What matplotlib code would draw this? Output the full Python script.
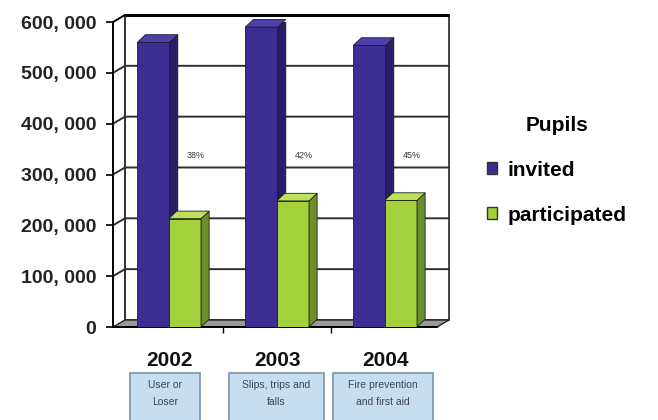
import matplotlib
matplotlib.use("Agg")
import matplotlib.pyplot as plt
import matplotlib.patches as mpatches
from matplotlib.ticker import FuncFormatter
import matplotlib.transforms as mtransforms

# dados do grafico
anos = ['2002', '2003', '2004']
temas = ['User or\nLoser', 'Slips, trips and\nfalls', 'Fire prevention\nand first aid']
convidados = [560000, 590000, 554000]
participantes = [213000, 248000, 249000]
percentuais = ['38%', '42%', '45%']
y_ticks = [0, 100000, 200000, 300000, 400000, 500000, 600000]

# cores
cor_conv = ('#3b2d91', '#291d68', '#4d3fae')   # frente, lado, topo
cor_part = ('#a3d13b', '#6b8e2c', '#bfe05a')

plt.rcParams['font.family'] = ['Liberation Sans', 'DejaVu Sans']

fig = plt.figure(figsize=(6.58, 4.2), dpi=100)
W, H = 658, 420
ax = fig.add_axes([113 / W, (H - 327) / H, (437 - 113) / W, 305 / H])

x0, x1 = -0.52, 2.48
ymax = 600000
ax.set_xlim(x0, x1)
ax.set_ylim(0, ymax)

# profundidade da "caixa" 3D (em unidades de dados)
pdx, pdy = 0.111, 13800
# profundidade das barras
bdx, bdy = 0.075, 15000

# parede do fundo
ax.add_patch(mpatches.Rectangle((x0 + pdx, pdy), x1 - x0, ymax, facecolor='white',
                                edgecolor='#222222', lw=1.2, clip_on=False, zorder=0))
ax.plot([x0 + pdx, x1 + pdx], [ymax + pdy, ymax + pdy], color='black', lw=2.2,
        clip_on=False, zorder=1, solid_capstyle='butt')
# parede lateral esquerda
ax.plot([x0 + pdx, x0 + pdx], [pdy, ymax + pdy], color='#333333', lw=1.2, clip_on=False, zorder=1)
ax.plot([x0, x0 + pdx], [ymax, ymax + pdy], color='black', lw=1.4, clip_on=False, zorder=1)

# linhas de grade
for v in y_ticks[1:-1]:
    ax.plot([x0, x0 + pdx, x1 + pdx], [v, v + pdy, v + pdy], color='#2e2e2e', lw=1.4,
            clip_on=False, zorder=1)

# piso
ax.add_patch(mpatches.Polygon([(x0, 0), (x1, 0), (x1 + pdx, pdy), (x0 + pdx, pdy)],
                              closed=True, facecolor='#9a9a9a', edgecolor='#222222',
                              lw=1.0, clip_on=False, zorder=1))


def barra3d(xc, largura, valor, cores):
    xl, xr = xc - largura / 2, xc + largura / 2
    ax.bar(xc, valor, width=largura, color=cores[0], edgecolor='#1c1c3a', lw=0.6, zorder=3)
    lado = [(xr, 0), (xr + bdx, bdy), (xr + bdx, valor + bdy), (xr, valor)]
    topo = [(xl, valor), (xr, valor), (xr + bdx, valor + bdy), (xl + bdx, valor + bdy)]
    ax.add_patch(mpatches.Polygon(lado, closed=True, facecolor=cores[1], edgecolor='#1c1c1c',
                                  lw=0.6, zorder=3))
    ax.add_patch(mpatches.Polygon(topo, closed=True, facecolor=cores[2], edgecolor='#1c1c1c',
                                  lw=0.6, zorder=3, clip_on=False))


larg = 0.30
for i in range(len(anos)):
    barra3d(i - 0.145, larg, convidados[i], cor_conv)
    barra3d(i + 0.145, larg, participantes[i], cor_part)
    ax.text(i + 0.25, 337000, percentuais[i], fontsize=6.5, color='#333333',
            ha='center', va='center', zorder=2)

# eixos
for s in ['top', 'right']:
    ax.spines[s].set_visible(False)
ax.spines['left'].set_linewidth(1.4)
ax.spines['bottom'].set_linewidth(1.4)
ax.set_yticks(y_ticks)
ax.yaxis.set_major_formatter(FuncFormatter(lambda v, p: f'{v:,.0f}'.replace(',', ', ')))
ax.tick_params(axis='y', length=5, width=1.2, pad=7, labelsize=14)
for t in ax.get_yticklabels():
    t.set_fontweight('bold')
    t.set_color('#222222')

ax.set_xticks(range(len(anos)))
ax.set_xticklabels(anos, fontsize=15, fontweight='bold', color='#111111')
ax.set_xticks([0.5, 1.5], minor=True)
ax.tick_params(axis='x', which='major', length=0, pad=17)
ax.tick_params(axis='x', which='minor', length=4, width=1.0)

# caixas com os temas
trans = mtransforms.blended_transform_factory(ax.transData, ax.transAxes)
larguras_caixa = [0.65, 0.88, 0.92]
centros_caixa = [-0.04, 0.99, 1.98]
for i, tema in enumerate(temas):
    w = larguras_caixa[i]
    ax.add_patch(mpatches.Rectangle((centros_caixa[i] - w / 2, -0.35), w, 0.2, transform=trans,
                                    facecolor='#c7ddf0', edgecolor='#7d93a8', lw=1.2,
                                    clip_on=False))
    ax.text(centros_caixa[i], -0.218, tema, transform=trans, ha='center', va='center',
            fontsize=7.5, color='#3c4652', linespacing=1.9)

# legenda
handles = [mpatches.Patch(facecolor=cor_conv[0], edgecolor='#333333', label='invited'),
           mpatches.Patch(facecolor=cor_part[0], edgecolor='#333333', label='participated')]
leg = fig.legend(handles=handles, title='Pupils', loc='upper left',
                 bbox_to_anchor=(468 / W, 1 - 97 / H), frameon=False,
                 prop={'size': 15, 'weight': 'bold'}, handlelength=0.5, handleheight=0.5,
                 handletextpad=0.5, labelspacing=1.25)
leg.get_title().set_fontsize(15)
leg.get_title().set_fontweight('bold')

fig.savefig('out.png', dpi=100)
